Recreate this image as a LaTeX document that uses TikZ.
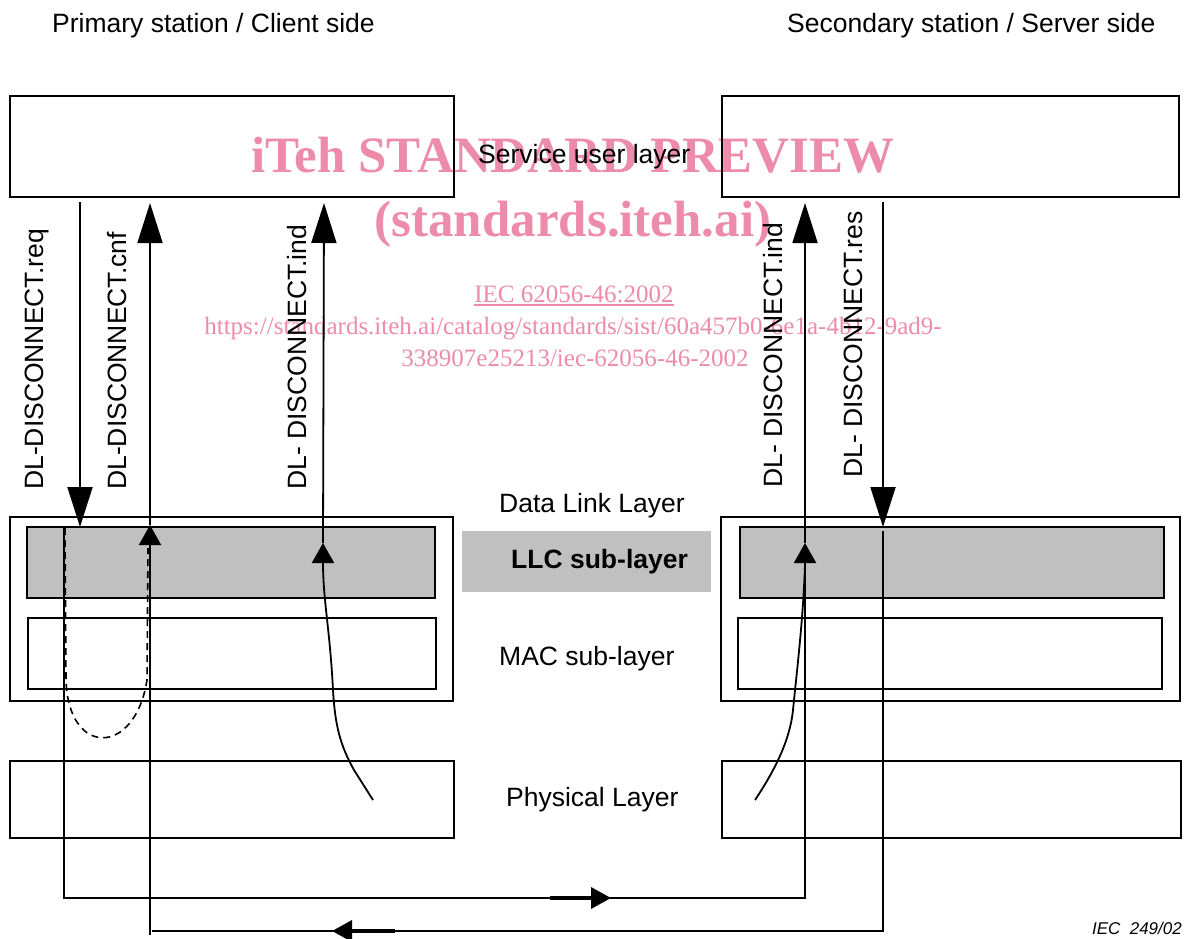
\documentclass[tikz,border=0pt]{standalone}
\usepackage{fontspec}
\setmainfont{Liberation Sans}
\newfontfamily\wmfont{Liberation Serif}
\usetikzlibrary{arrows.meta}
\definecolor{wmpink}{RGB}{236,140,170}
\definecolor{llcgray}{RGB}{192,192,192}
\begin{document}
\begin{tikzpicture}[x=1pt,y=-1pt,
  box/.style={draw, line width=2pt, rectangle, inner sep=0pt, outer sep=0pt},
  graybox/.style={box, fill=llcgray},
  lbl/.style={font=\fontsize{26.5}{30}\selectfont, inner sep=0pt, anchor=base west},
  vlbl/.style={lbl, rotate=90},
  wmbig/.style={text=wmpink, inner sep=0pt, anchor=base, font=\wmfont\bfseries\fontsize{51}{55}\selectfont},
  wmsmall/.style={text=wmpink, inner sep=0pt, anchor=base, font=\wmfont\fontsize{25}{28}\selectfont},
  conn/.style={line width=1.8pt},
  bigtip/.style={-{Triangle[length=40pt,width=25pt]}},
  smalltip/.style={-{Triangle[length=20pt,width=22pt]}},
  flowtip/.style={line width=3.5pt, -{Triangle[length=20pt,width=21pt]}},
  dashedconn/.style={line width=1.6pt, dash pattern=on 7pt off 5pt}]
\useasboundingbox (0,0) rectangle (1189,938);

% watermark (drawn first, underneath)
\node[wmbig] (wm1) at (573,172) {iTeh STANDARD PREVIEW};
\node[wmbig] (wm2) at (573,236) {(standards.iteh.ai)};
\node[wmsmall] (wm3) at (574,302) {IEC 62056-46:2002};
\draw[wmpink, line width=1.2pt] ([yshift=-3pt]wm3.base west) -- ([yshift=-3pt]wm3.base east);
\node[wmsmall] (wm4) at (573,334) {https://standards.iteh.ai/catalog/standards/sist/60a457b0-6e1a-4b12-9ad9-};
\node[wmsmall] (wm5) at (575,366) {338907e25213/iec-62056-46-2002};

% boxes
\node[box, minimum width=444pt, minimum height=101pt] (suL) at (232,146.5) {};
\node[box, minimum width=457pt, minimum height=101pt] (suR) at (950.5,146.5) {};
\node[box, minimum width=443pt, minimum height=184pt] (dllL) at (231.5,609) {};
\node[graybox, minimum width=408pt, minimum height=71pt] (llcL) at (231,562.5) {};
\node[box, minimum width=408pt, minimum height=71pt] (macL) at (232,653.5) {};
\node[box, minimum width=444pt, minimum height=77pt] (phyL) at (232,799.5) {};
\node[box, minimum width=459pt, minimum height=184pt] (dllR) at (950.5,609) {};
\node[graybox, minimum width=424pt, minimum height=71pt] (llcR) at (952,562.5) {};
\node[box, minimum width=424pt, minimum height=71pt] (macR) at (950,653.5) {};
\node[box, minimum width=459pt, minimum height=77pt] (phyR) at (951.5,799.5) {};
\node[fill=llcgray, inner sep=0pt, minimum width=249pt, minimum height=61pt] (llcTag) at (586.5,561.5) {};

% texts
\node[lbl] (tPrim) at (52,32) {Primary station / Client side};
\node[lbl] (tSec) at (787,32) {Secondary station / Server side};
\node[lbl] (tSU) at (478,163) {Service user layer};
\node[lbl] (tDLL) at (499,512) {Data Link Layer};
\node[lbl, font=\bfseries\fontsize{26.5}{30}\selectfont] (tLLC) at (511,568) {LLC sub-layer};
\node[lbl] (tMAC) at (499,665) {MAC sub-layer};
\node[lbl] (tPhy) at (506,806) {Physical Layer};
\node[font=\itshape\fontsize{17}{20}\selectfont, inner sep=0pt, anchor=base east] (iec) at (1182,934) {IEC\ \ 249/02};

% vertical labels
\node[vlbl] (lreq) at (43.5,490) {DL-DISCONNECT.req};
\node[vlbl] (lcnf) at (126,490) {DL-DISCONNECT.cnf};
\node[vlbl] (lindL) at (306,490) {DL- DISCONNECT.ind};
\node[vlbl] (lindR) at (782,488) {DL- DISCONNECT.ind};
\node[vlbl] (lres) at (862,478) {DL- DISCONNECT.res};

% coordinates
\coordinate (reqTop) at (80,202);
\coordinate (reqTip) at (80,527);
\coordinate (loopA) at (64,527);
\coordinate (loopB) at (64,898);
\coordinate (loopC) at (805,898);
\coordinate (indRmid) at (805,543);
\coordinate (indRtop) at (805,203);
\coordinate (cnfBot) at (150,935);
\coordinate (cnfMid) at (150,525);
\coordinate (cnfTop) at (150,203);
\coordinate (indLsrc) at (373,800);
\coordinate (indLmid) at (323,543);
\coordinate (indLtop) at (324,203);
\coordinate (indRsrc) at (755,800);
\coordinate (indRjoin) at (805,565);
\coordinate (resTop) at (883,202);
\coordinate (resTip) at (883,527);
\coordinate (retA) at (883,531);
\coordinate (retB) at (883,931);
\coordinate (retC) at (152,931);
\coordinate (dashA) at (65,528);
\coordinate (dashB) at (148,548);

% connectors
\draw[conn, bigtip] (reqTop) -- (reqTip);
\draw[conn, smalltip] (loopA) -- (loopB) -- (loopC) -- (indRmid);
\draw[conn, bigtip] (indRmid) -- (indRtop);
\draw[conn, smalltip] (cnfBot) -- (cnfMid);
\draw[conn, bigtip] (cnfMid) -- (cnfTop);
\draw[conn, smalltip] (indLsrc) -- (354,770) .. controls (340,745) and (335,725) .. (333,690) .. controls (330,630) and (323,600) .. (indLmid);
\draw[conn, bigtip] (indLmid) -- (indLtop);
\draw[conn] (indRsrc) .. controls (775,770) and (790,740) .. (793,710) .. controls (798,660) and (803,620) .. (indRjoin);
\draw[conn, bigtip] (resTop) -- (resTip);
\draw[conn] (retA) -- (retB) -- (retC);
\draw[dashedconn] (dashA) -- (66,680) .. controls (68,757) and (135,757) .. (147,680) -- (dashB);

% flow arrows on the bottom lines
\draw[flowtip] (550,898) -- (611,898);
\draw[flowtip] (395,931) -- (332,931);
\end{tikzpicture}
\end{document}
